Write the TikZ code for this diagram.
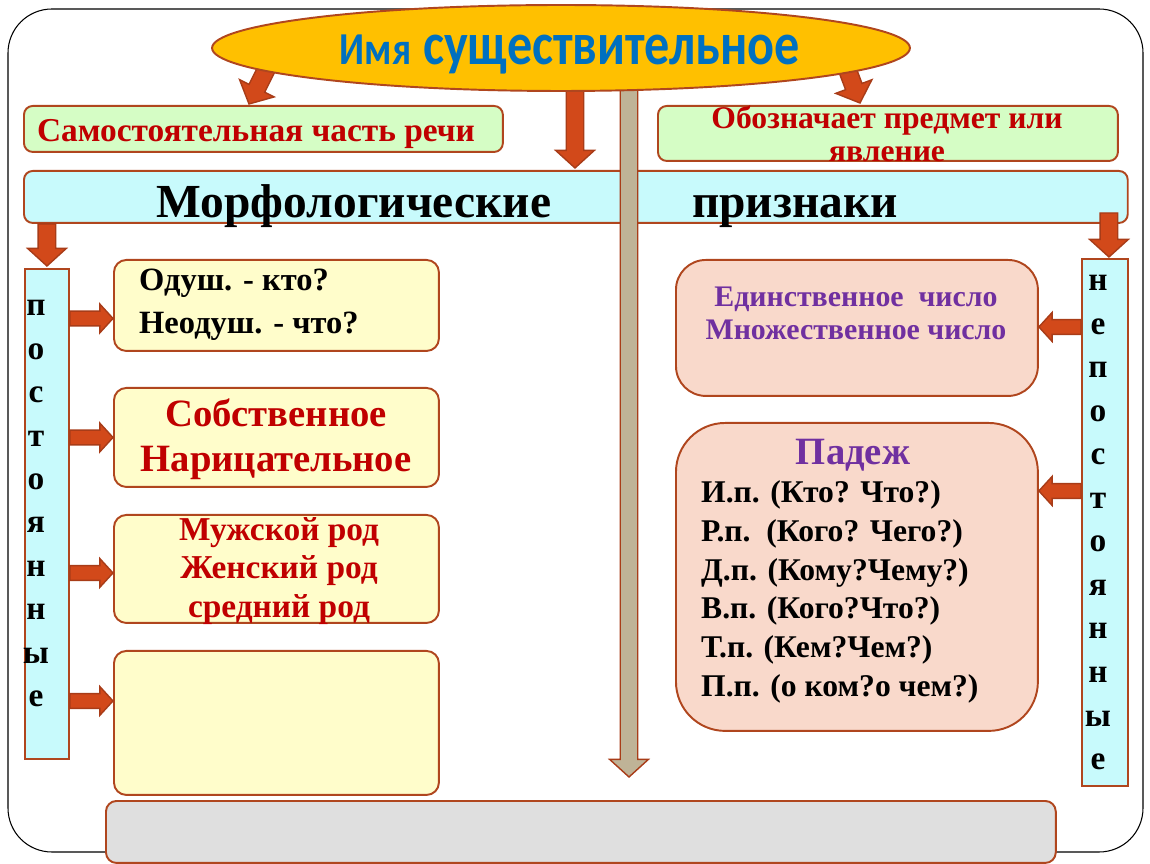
\documentclass[tikz,border=0pt]{standalone}
\usepackage{fontspec}
\setmainfont{Liberation Serif}
\newfontfamily\headfont{Carlito}
\usetikzlibrary{calc,shapes.geometric}

\definecolor{goldfill}{HTML}{FFC000}
\definecolor{edgebrown}{HTML}{B0461E}
\definecolor{arrowred}{HTML}{D2491A}
\definecolor{arrowedge}{HTML}{A83C18}
\definecolor{tanfill}{HTML}{BFB397}
\definecolor{titleblue}{HTML}{0070C0}
\definecolor{textred}{HTML}{C00000}
\definecolor{textpurple}{HTML}{7030A0}
\definecolor{greenfill}{HTML}{D5FDC5}
\definecolor{cyanfill}{HTML}{C8FAFC}
\definecolor{yellowfill}{HTML}{FFFDCB}
\definecolor{pinkfill}{HTML}{F9D9CB}
\definecolor{greyfill}{HTML}{DFDFDF}

\begin{document}
\begin{tikzpicture}[x=0.02cm, y=-0.02cm, font=\bfseries,
    box/.style={draw=edgebrown, line width=1.1pt, rounded corners=5pt,
                inner sep=0pt, anchor=north west},
    strip/.style={draw=edgebrown, line width=1.1pt, fill=cyanfill,
                  inner sep=0pt, anchor=north west},
    letter/.style={font=\fontsize{19}{20}\selectfont\bfseries, anchor=base, inner sep=0pt},
    blockarrow/.style n args={3}{to path={
        ($(\tikztostart)!#1!-90:(\tikztotarget)$)
        -- ($(\tikztotarget)!#3!(\tikztostart)!#1!-90:(\tikztotarget)$)
        -- ($(\tikztotarget)!#3!(\tikztostart)!#2!-90:(\tikztotarget)$)
        -- (\tikztotarget)
        -- ($(\tikztotarget)!#3!(\tikztostart)!#2!90:(\tikztotarget)$)
        -- ($(\tikztotarget)!#3!(\tikztostart)!#1!90:(\tikztotarget)$)
        -- ($(\tikztostart)!#1!90:(\tikztotarget)$)
        -- cycle}},
    bigarrow/.style={blockarrow={5pt}{11pt}{10pt}, fill=arrowred, draw=arrowedge, line width=0.8pt},
    smallarrow/.style={blockarrow={4.2pt}{8.2pt}{7.5pt}, fill=arrowred, draw=arrowedge, line width=0.8pt},
]
    \useasboundingbox (0,0) rectangle (1150,864);

    % Frame
    \draw[line width=0.6pt, rounded corners=25pt] (8,9) rectangle (1143,852);

    % Top boxes
    \node[box, fill=greenfill, minimum width=9.58cm, minimum height=0.92cm] (selfpart) at (23,105) {};
    \node[box, fill=greenfill, minimum width=9.2cm, minimum height=1.1cm] (meaning) at (657,105) {};
    \node[box, fill=cyanfill, minimum width=22.08cm, minimum height=1.04cm] (morph) at (23,170) {};

    \node[anchor=base, text=textred, font=\fontsize{19}{22}\selectfont\bfseries] (selfpartText) at (256,142) {Самостоятельная часть речи};
    \node[align=center, text=textred, font=\fontsize{18}{18.7}\selectfont\bfseries] (meaningText) at (887,134) {Обозначает предмет или\\явление};
    \node[anchor=base, font=\fontsize{27}{30}\selectfont\bfseries] (morphLeft) at (354,218) {Морфологические};
    \node[anchor=base, font=\fontsize{27}{30}\selectfont\bfseries] (morphRight) at (795,218) {признаки};

    % Strips
    \node[strip, minimum width=0.88cm, minimum height=9.8cm] (perm) at (24,268) {};
    \node[strip, minimum width=0.92cm, minimum height=10.54cm] (nonperm) at (1081,258) {};
    \foreach \ch [count=\i from 0] in {п,о,с,т,о,я,н,н,ы,е}
        \node[letter] (perm\i) at (36, 316+43.4*\i) {\ch};
    \foreach \ch [count=\i from 0] in {н,е,п,о,с,т,о,я,н,н,ы,е}
        \node[letter] (nonperm\i) at (1098, 291+43.5*\i) {\ch};

    % Left column
    \node[box, fill=yellowfill, rounded corners=7pt, minimum width=6.5cm, minimum height=1.82cm] (anim) at (113,259) {};
    \node[box, fill=yellowfill, rounded corners=7pt, minimum width=6.5cm, minimum height=1.98cm] (proper) at (113,387) {};
    \node[box, fill=yellowfill, rounded corners=7pt, minimum width=6.5cm, minimum height=2.16cm] (gender) at (113,514) {};
    \node[box, fill=yellowfill, rounded corners=7pt, minimum width=6.5cm, minimum height=2.88cm] (blank) at (113,650) {};

    \node[anchor=west, align=left, font=\fontsize{18.5}{24.4}\selectfont\bfseries] (animText) at (133,305) {Одуш. - кто?\\Неодуш. - что?};
    \node[align=center, text=textred, font=\fontsize{22}{25.5}\selectfont\bfseries] (properText) at (276,439) {Собственное\\Нарицательное};
    \node[align=center, text=textred, font=\fontsize{19}{22}\selectfont\bfseries] (genderText) at (279,571) {Мужской род\\Женский род\\средний род};

    % Right column
    \node[box, fill=pinkfill, rounded corners=17pt, minimum width=7.24cm, minimum height=2.72cm] (number) at (675,259) {};
    \node[box, fill=pinkfill, rounded corners=28pt, minimum width=7.24cm, minimum height=6.16cm] (case) at (675,422) {};

    \node[align=center, text=textpurple, font=\fontsize{17}{18.7}\selectfont\bfseries] (numberText) at (856,313) {Единственное\ \ число\\Множественное число};
    \node[anchor=base, text=textpurple, font=\fontsize{22}{25}\selectfont\bfseries] (caseHead) at (853,465) {Падеж};
    \node[anchor=west, align=left, font=\fontsize{18}{22}\selectfont\bfseries] (caseText) at (695,592)
        {И.п. (Кто? Что?)\\Р.п.\ \ (Кого? Чего?)\\Д.п. (Кому?Чему?)\\В.п. (Кого?Что?)\\Т.п. (Кем?Чем?)\\П.п. (о ком?о чем?)};

    % Bottom
    \node[box, fill=greyfill, rounded corners=6pt, minimum width=19cm, minimum height=1.24cm] (bottom) at (105,800) {};

    % Arrows
    \coordinate (LeftFrom) at (272,58);
    \coordinate (RightFrom) at (843,58);
    \coordinate (MidFrom) at (575,75);
    \coordinate (TanFrom) at (629,75);
    \coordinate (SelfpartTo) at ($(selfpart.north west)+(226,-1)$);
    \coordinate (MeaningTo) at ($(meaning.north west)+(203,-2)$);
    \coordinate (MorphTo) at ($(morph.north west)+(552,-2)$);
    \coordinate (TanTo) at ($(bottom.north west)+(524,-23)$);
    \draw[bigarrow] (LeftFrom) to (SelfpartTo);
    \draw[bigarrow] (RightFrom) to (MeaningTo);
    \draw[bigarrow] (MidFrom) to (MorphTo);
    \draw[bigarrow, fill=tanfill] (TanFrom) to (TanTo);

    \coordinate (PermFrom) at (perm.north |- morph.south);
    \coordinate (PermTo) at ($(perm.north)+(0,-2)$);
    \draw[bigarrow] (PermFrom) to (PermTo);
    \coordinate (NonpermFrom) at ($(nonperm.north)+(4,-45)$);
    \coordinate (NonpermTo) at ($(nonperm.north)+(4,-1)$);
    \draw[bigarrow] (NonpermFrom) to (NonpermTo);

    \foreach \b/\dy in {anim/13, proper/0, gender/4, blank/-22} {
        \coordinate (to\b) at ($(\b.west)+(0,\dy)$);
        \coordinate (from\b) at (perm.east |- to\b);
        \draw[smallarrow] (from\b) to (to\b);
    }
    \foreach \b/\dy in {number/-1, case/-86} {
        \coordinate (to\b) at ($(\b.east)+(0,\dy)$);
        \coordinate (from\b) at (nonperm.west |- to\b);
        \draw[smallarrow] (from\b) to (to\b);
    }

    % Title
    \node[ellipse, draw=edgebrown, line width=1.1pt, fill=goldfill, minimum width=13.96cm,
          minimum height=1.72cm, inner sep=0pt] (title) at (561,48) {};
    \node[anchor=base, text=titleblue, font=\headfont\bfseries] (titleText) at (570,65)
        {\scalebox{0.84}[1]{{\fontsize{26}{28}\selectfont Имя}\hspace{8pt}{\fontsize{34}{36}\selectfont существительное}}};
\end{tikzpicture}
\end{document}
